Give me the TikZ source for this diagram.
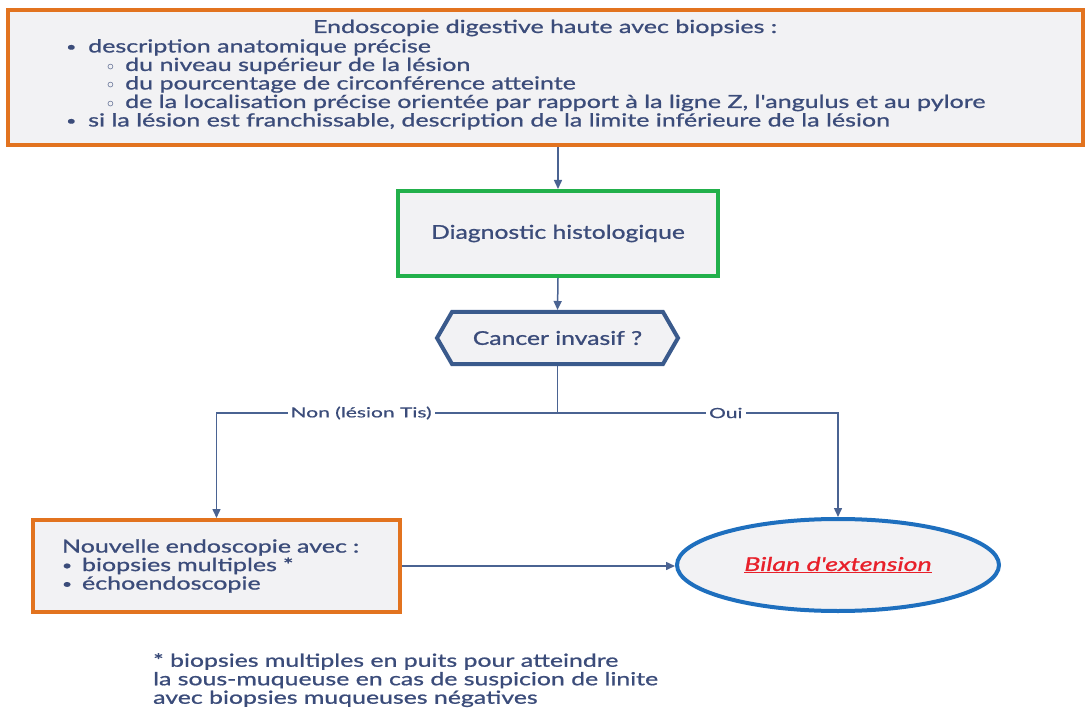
\documentclass[tikz,border=0pt]{standalone}
\usepackage{fontspec}
\setmainfont{Lato}
\newfontfamily\topf[FakeStretch=1.39,FakeBold=1]{Lato}
\newfontfamily\midf[FakeStretch=1.3,FakeBold=1]{Lato}
\newfontfamily\itf[FakeStretch=1.41,FakeBold=1]{Lato}
\newfontfamily\notef[FakeStretch=1.38,FakeBold=1]{Lato}
\newfontfamily\lblf[FakeStretch=1.5,FakeBold=0.6]{Lato}
\usetikzlibrary{shapes.geometric,shapes.symbols,arrows.meta}
\definecolor{txt}{HTML}{3B4C7A}
\definecolor{lin}{HTML}{4A6392}
\definecolor{orng}{HTML}{E2731F}
\definecolor{grn}{HTML}{22B04B}
\definecolor{hexb}{HTML}{3A5A8C}
\definecolor{ellb}{HTML}{1E6FBE}
\definecolor{bg}{HTML}{F2F2F4}
\definecolor{redt}{HTML}{E8202A}
\newcommand{\bul}{\raisebox{0.15ex}{\scalebox{0.7}{\textbullet}}}
\newcommand{\subbul}{\raisebox{0.1ex}{\scalebox{0.8}{$\circ$}}}
\tikzset{
  x=1pt, y=-1pt,
  boxo/.style={draw=orng, line width=4pt, fill=bg, inner sep=0pt},
  boxg/.style={draw=grn, line width=4pt, fill=bg, inner sep=0pt},
  arr/.style={draw=lin, line width=1.5pt, -{Triangle[length=9pt,width=8pt]}},
  plain/.style={draw=lin, line width=1.5pt},
  lbl/.style={fill=white, text=txt, font=\lblf\fontsize{14}{16}\selectfont, inner sep=3pt},
}
\begin{document}
\begin{tikzpicture}
\useasboundingbox (0,0) rectangle (1087,711);
% top box
\node[boxo, minimum width=1075pt, minimum height=135pt] (top) at (545.5,77.5) {};
\node[text=txt, font=\topf\fontsize{18}{18.5}\selectfont, inner sep=0pt] (title) at (545,28) {Endoscopie digestive haute avec biopsies :};
\node[anchor=north west, align=left, text=txt, font=\topf\fontsize{18}{18.5}\selectfont, inner sep=0pt] (list) at (66,39)
{\makebox[22pt][l]{\bul}description anatomique précise\\
\hspace*{41pt}\makebox[18pt][l]{\subbul}du niveau supérieur de la lésion\\
\hspace*{41pt}\makebox[18pt][l]{\subbul}du pourcentage de circonférence atteinte\\
\hspace*{41pt}\makebox[18pt][l]{\subbul}de la localisation précise orientée par rapport à la ligne Z, l'angulus et au pylore\\
\makebox[22pt][l]{\bul}si la lésion est franchissable, description de la limite inférieure de la lésion};
% diagnostic
\node[boxg, minimum width=320pt, minimum height=85pt, text=txt, font=\midf\fontsize{19}{22}\selectfont] (diag) at (558,233.5) {Diagnostic histologique};
% hexagon
\node[signal, signal to=east and west, signal pointer angle=120, draw=hexb, line width=4pt, fill=bg, minimum width=241pt, minimum height=52pt, inner sep=0pt, text=txt, font=\midf\fontsize{19}{22}\selectfont] (hex) at (557.5,338) {Cancer invasif ?};
% bottom-left box
\node[boxo, minimum width=367pt, minimum height=92pt, text width=309pt, inner xsep=29pt, align=left, text=txt, font=\topf\fontsize{18}{18.5}\selectfont] (nouv) at (216.5,566)
{Nouvelle endoscopie avec :\\
\makebox[20pt][l]{\bul}biopsies multiples *\\
\makebox[20pt][l]{\bul}échoendoscopie};
% ellipse
\node[ellipse, draw=ellb, line width=4pt, fill=bg, minimum width=322pt, minimum height=92pt, inner sep=0pt, text=redt, font=\itf\itshape\fontsize{19}{22}\selectfont] (bilan) at (838,565) {\underline{Bilan d'extension}};
% footnote
\node[anchor=north west, align=left, text=txt, font=\notef\fontsize{18}{18.5}\selectfont, inner sep=0pt] (note) at (153,653)
{* biopsies multiples en puits pour atteindre\\
la sous-muqueuse en cas de suspicion de linite\\
avec biopsies muqueuses négatives};
% connectors
\coordinate (j) at (557.5,413);
\draw[arr] (diag.north |- top.south) -- (diag.north);
\draw[arr] (diag.south) -- (hex.north);
\draw[plain] (hex.south) -- (j);
\draw[arr] (j) -- node[lbl, pos=0.576] {Non (lésion Tis)} (j -| nouv.north) -- (nouv.north);
\draw[arr] (j) -- node[lbl, pos=0.6] {Oui} (j -| bilan.north) -- (bilan.north);
\draw[arr] (nouv.east) -- (nouv.east -| bilan.west);
\end{tikzpicture}
\end{document}
